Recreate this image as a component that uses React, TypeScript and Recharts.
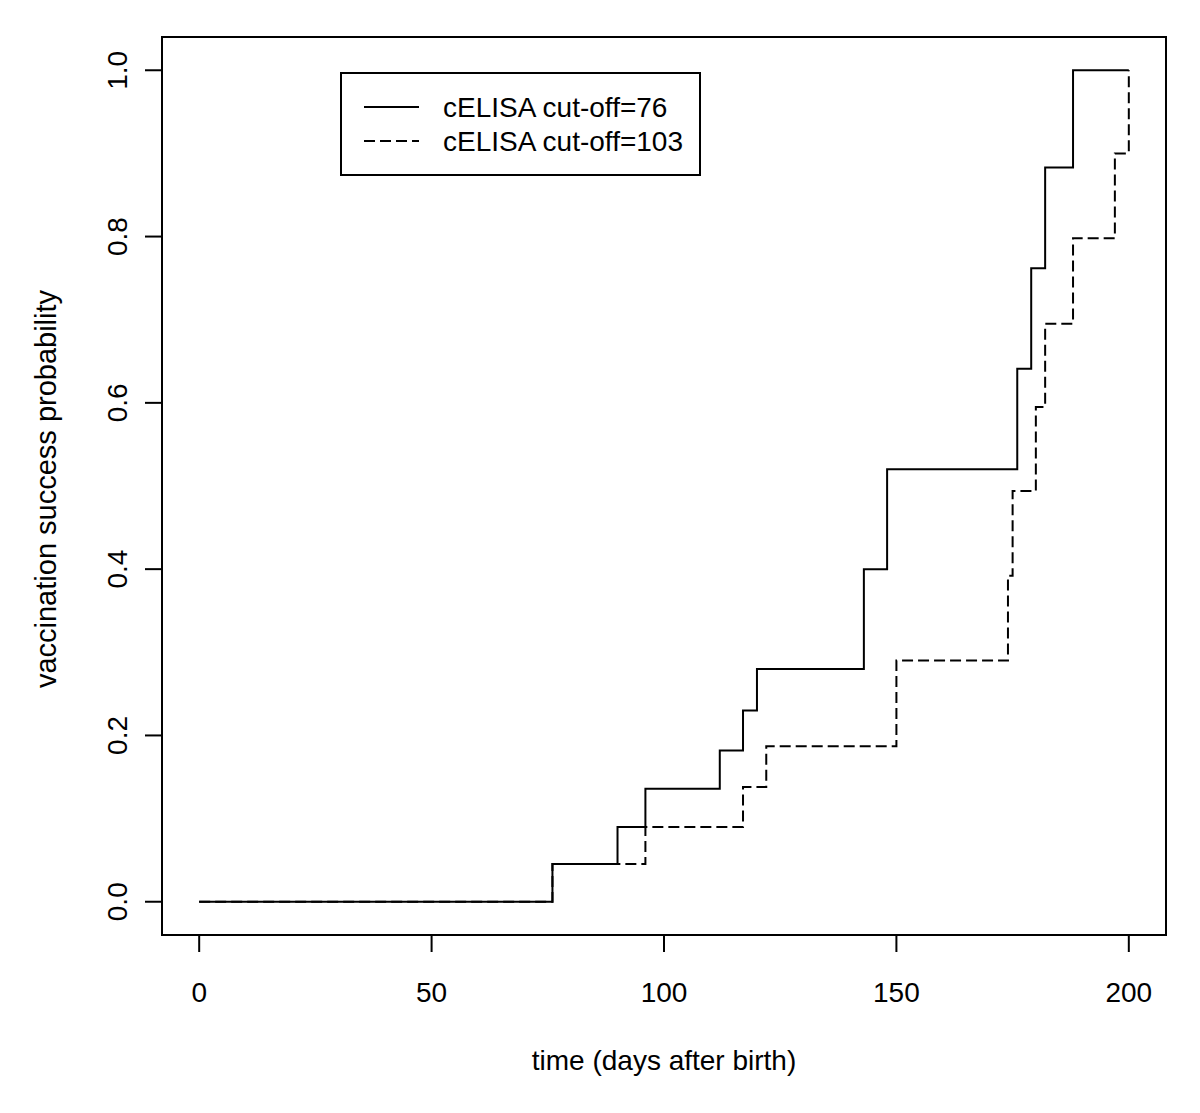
import React from "react";
import {
  LineChart,
  Line,
  XAxis,
  YAxis,
  ReferenceArea,
  Legend,
  Label,
} from "recharts";

// Kaplan-Meier style step curves
const cutoff76Days = [0, 76, 90, 96, 112, 117, 120, 143, 148, 176, 179, 182, 188, 200];
const cutoff76Prob = [0, 0.0455, 0.09, 0.136, 0.182, 0.23, 0.28, 0.4, 0.52, 0.641, 0.762, 0.883, 1.0, 1.0];

const cutoff103Days = [0, 76, 96, 117, 122, 150, 174, 175, 180, 182, 188, 197, 200];
const cutoff103Prob = [0, 0.0455, 0.09, 0.138, 0.187, 0.29, 0.392, 0.494, 0.595, 0.695, 0.798, 0.9, 1.0];

const seriesNames = ["cELISA cut-off=76", "cELISA cut-off=103"];
const xTicks = [0, 50, 100, 150, 200];
const yTicks = [0, 0.2, 0.4, 0.6, 0.8, 1.0];

const solidData = cutoff76Days.map((t, i) => ({ t, p: cutoff76Prob[i] }));
const dashedData = cutoff103Days.map((t, i) => ({ t, p: cutoff103Prob[i] }));

const FONT = '"Liberation Sans", Arial, Helvetica, sans-serif';
const DASH = "11 5";

const XTick = (props: any) => {
  const { x, y, payload } = props;
  return (
    <text x={x} y={y + 50} textAnchor="middle" fontFamily={FONT} fontSize={28} fill="#000">
      {payload.value}
    </text>
  );
};

const YTick = (props: any) => {
  const { x, y, payload } = props;
  const bx = x - 18;
  return (
    <text
      x={bx}
      y={y}
      transform={`rotate(-90, ${bx}, ${y})`}
      textAnchor="middle"
      fontFamily={FONT}
      fontSize={28}
      fill="#000"
    >
      {Number(payload.value).toFixed(1)}
    </text>
  );
};

const LegendBox = () => (
  <svg width={361} height={104} style={{ display: "block" }}>
    <rect x={1} y={1} width={359} height={102} fill="#fff" stroke="#000" strokeWidth={2} />
    <line x1={24} x2={79} y1={35} y2={35} stroke="#000" strokeWidth={2} />
    <line x1={24} x2={79} y1={69} y2={69} stroke="#000" strokeWidth={2} strokeDasharray={DASH} />
    <text x={103} y={45} fontFamily={FONT} fontSize={28} fill="#000">
      {seriesNames[0]}
    </text>
    <text x={103} y={79} fontFamily={FONT} fontSize={28} fill="#000">
      {seriesNames[1]}
    </text>
  </svg>
);

export default function App() {
  return (
    <div style={{ width: 1192, height: 1105, background: "#fff" }}>
      <LineChart
        width={1192}
        height={1105}
        margin={{ top: 29, right: 34, bottom: 0, left: 0 }}
      >
        <XAxis
          dataKey="t"
          type="number"
          domain={[-8, 208]}
          ticks={xTicks}
          allowDataOverflow
          height={178}
          axisLine={false}
          tickSize={17}
          tickMargin={0}
          tickLine={{ stroke: "#000", strokeWidth: 2 }}
          tick={<XTick />}
          interval={0}
        >
          <Label
            content={(p: any) => {
              const vb = p.viewBox;
              return (
                <text
                  x={vb.x + vb.width / 2}
                  y={vb.y + 135}
                  textAnchor="middle"
                  fontFamily={FONT}
                  fontSize={28}
                  fill="#000"
                >
                  time (days after birth)
                </text>
              );
            }}
          />
        </XAxis>
        <YAxis
          type="number"
          domain={[-0.04, 1.04]}
          ticks={yTicks}
          allowDataOverflow
          width={154}
          axisLine={false}
          tickSize={17}
          tickMargin={0}
          tickLine={{ stroke: "#000", strokeWidth: 2 }}
          tick={<YTick />}
          interval={0}
        >
          <Label
            content={(p: any) => {
              const vb = p.viewBox;
              const cx = 48;
              const cy = vb.y + vb.height / 2 + 3;
              return (
                <text
                  x={cx}
                  y={cy}
                  transform={`rotate(-90, ${cx}, ${cy})`}
                  textAnchor="middle"
                  fontFamily={FONT}
                  fontSize={29}
                  fill="#000"
                >
                  vaccination success probability
                </text>
              );
            }}
          />
        </YAxis>
        <ReferenceArea
          x1={-8}
          x2={208}
          y1={-0.04}
          y2={1.04}
          fill="none"
          fillOpacity={0}
          stroke="#000"
          strokeWidth={2}
          ifOverflow="visible"
        />
        <Line
          data={dashedData}
          dataKey="p"
          name={seriesNames[1]}
          type="stepAfter"
          stroke="#000"
          strokeWidth={2}
          strokeDasharray={DASH}
          dot={false}
          activeDot={false}
          isAnimationActive={false}
        />
        <Line
          data={solidData}
          dataKey="p"
          name={seriesNames[0]}
          type="stepAfter"
          stroke="#000"
          strokeWidth={2}
          dot={false}
          activeDot={false}
          isAnimationActive={false}
        />
        <Legend
          layout="vertical"
          align="center"
          verticalAlign="middle"
          wrapperStyle={{ left: 332, top: 64, width: 361, height: 104 }}
          content={() => <LegendBox />}
        />
      </LineChart>
    </div>
  );
}
